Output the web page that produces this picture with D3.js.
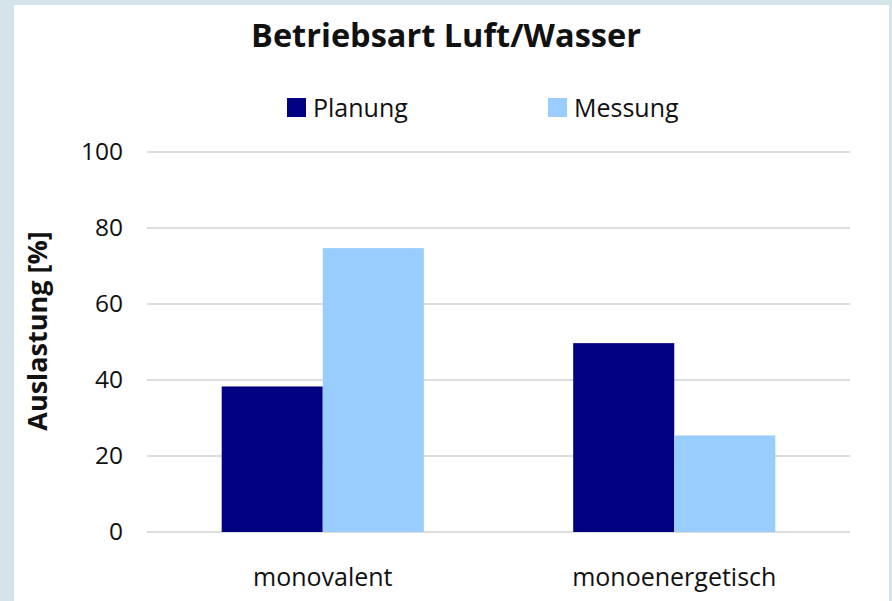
<!DOCTYPE html>
<html>
<head>
<meta charset="utf-8">
<script src="https://cdn.jsdelivr.net/npm/d3@7"></script>
<style>
  html, body { margin: 0; padding: 0; background: #d5e3ea; }
  text { font-family: "Open Sans", "Noto Sans", sans-serif; fill: #111; }
</style>
</head>
<body>
<div id="chart"></div>
<script>
const categories = ['monovalent', 'monoenergetisch']
const seriesNames = ['Planung', 'Messung']
const planung = [38.3, 49.7]
const messung = [74.7, 25.4]
const yTicks = [0, 20, 40, 60, 80, 100]
const colors = ['#000080', '#99ccff']

const width = 892, height = 601
const margin = { top: 152, right: 42, bottom: 69, left: 147 }

const rows = categories.map((c, i) => ({ category: c, values: [planung[i], messung[i]] }))

const svg = d3.select('#chart').append('svg')
    .attr('width', width)
    .attr('height', height)

// white chart area
svg.append('rect')
    .attr('x', 14).attr('y', 5)
    .attr('width', 875).attr('height', height - 5)
    .attr('fill', '#fff')

const x0 = d3.scaleBand()
    .domain(categories)
    .range([margin.left, width - margin.right])
    .padding(0)

const x1 = d3.scaleBand()
    .domain(seriesNames)
    .range([x0.bandwidth() * 0.2125, x0.bandwidth() * 0.7875])

const y = d3.scaleLinear()
    .domain([0, 100])
    .range([height - margin.bottom, margin.top])

// gridlines
svg.append('g')
    .selectAll('line')
    .data(yTicks)
    .enter()
        .append('line')
            .attr('x1', margin.left)
            .attr('x2', width - margin.right)
            .attr('y1', d => y(d))
            .attr('y2', d => y(d))
            .attr('stroke', '#d0d0d0')
            .attr('stroke-width', 1.5)

// y axis labels
const yAxis = svg.append('g')
    .attr('transform', `translate(${margin.left}, 0)`)
    .call(d3.axisLeft(y).tickValues(yTicks).tickSize(0).tickPadding(24))
yAxis.select('.domain').remove()
yAxis.selectAll('text')
    .style('font-size', '24.5px')
    .style('font-family', '"Open Sans", "Noto Sans", sans-serif')
    .attr('fill', '#111')

// bars
svg.append('g')
    .selectAll('g')
    .data(rows)
    .enter()
        .append('g')
            .attr('transform', d => `translate(${x0(d.category)}, 0)`)
            .selectAll('rect')
            .data(d => d.values.map((v, i) => ({ key: seriesNames[i], value: v, color: colors[i] })))
            .enter()
                .append('rect')
                    .attr('x', d => x1(d.key))
                    .attr('width', x1.bandwidth())
                    .attr('y', d => y(d.value))
                    .attr('height', d => y(0) - y(d.value))
                    .attr('fill', d => d.color)

// category labels
const xAxis = svg.append('g')
    .attr('transform', `translate(0, ${height - margin.bottom})`)
    .call(d3.axisBottom(x0).tickSize(0).tickPadding(36))
xAxis.select('.domain').remove()
xAxis.selectAll('text')
    .style('font-size', '25px')
    .style('font-family', '"Open Sans", "Noto Sans", sans-serif')
    .attr('fill', '#111')

// title
svg.append('text')
    .attr('x', 446)
    .attr('y', 47)
    .attr('text-anchor', 'middle')
    .style('font-size', '32.5px')
    .style('font-weight', 'bold')
    .text('Betriebsart Luft/Wasser')

// axis title
svg.append('text')
    .attr('transform', 'translate(47, 331) rotate(-90)')
    .attr('text-anchor', 'middle')
    .style('font-size', '27px')
    .style('font-weight', 'bold')
    .text('Auslastung [%]')

// legend
const legendX = [287, 548]
const legend = svg.append('g')
    .selectAll('g')
    .data(seriesNames)
    .enter()
        .append('g')
            .attr('transform', (d, i) => `translate(${legendX[i]}, 98)`)
legend.append('rect')
    .attr('width', 19)
    .attr('height', 19)
    .attr('fill', (d, i) => colors[i])
legend.append('text')
    .attr('x', 26)
    .attr('y', 19)
    .style('font-size', '25px')
    .text(d => d)
</script>
</body>
</html>
